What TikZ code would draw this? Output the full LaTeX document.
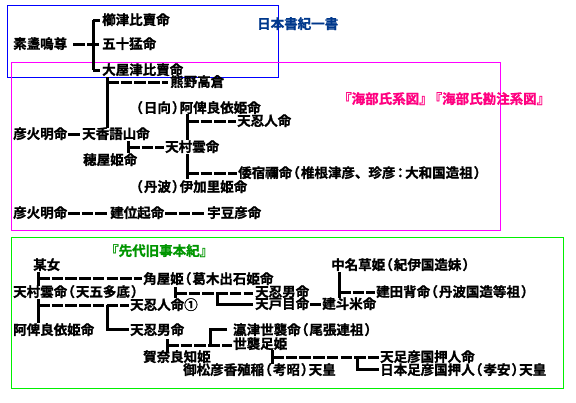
\documentclass[tikz,border=0pt]{standalone}
\usepackage{fontspec}
\setmainfont{Noto Sans CJK JP}[BoldFont={Noto Sans CJK JP Bold},BoldFeatures={FakeBold=1.2}]
\newcommand\LP{\kern1pt{\addfontfeature{RawFeature=+halt}（}\kern1pt}
\newcommand\RP{\kern1pt{\addfontfeature{RawFeature=+halt}）}\kern1pt}
\newcommand\CO{\kern1.5pt{\addfontfeature{RawFeature=+halt}：}\kern1.5pt}
\definecolor{boxblue}{RGB}{0,0,255}
\definecolor{txtblue}{RGB}{0,56,140}
\definecolor{boxmag}{RGB}{255,0,255}
\definecolor{txtmag}{RGB}{255,0,128}
\definecolor{boxgreen}{RGB}{0,240,0}
\definecolor{txtgreen}{RGB}{0,150,0}
\begin{document}
\begin{tikzpicture}[x=1pt,y=-1pt,
  lbl/.style={anchor=west,inner sep=0pt,font=\fontsize{13.5}{14}\selectfont\bfseries,text height=11pt,text depth=1.5pt},
  ln/.style={line width=3pt},
  hl/.style={line width=3pt,dash pattern=on 11.5pt off 2.2pt},
  frame/.style={line width=1pt}]
\useasboundingbox[fill=white] (0,0) rectangle (576,402);

% ---------- frames ----------
\draw[frame,boxblue] (7,5) rectangle (278,77);
\draw[frame,boxmag] (11,62) rectangle (500,230);
\draw[frame,boxgreen] (11,237) rectangle (563,388);

% ---------- Nihon shoki ----------
\node[lbl,txtblue] (t1) at (257,24) {日本書紀一書};
\node[lbl] (kushi) at (102,20) {櫛津比賣命};
\node[lbl] (susa) at (13,44) {素盞嗚尊};
\node[lbl] (iso) at (102,44) {五十猛命};
\node[lbl] (oya) at (102,70) {大屋津比賣命};
\coordinate (a1) at (93,20);
\coordinate (a3) at (93,70);
\draw[ln] (a1) -- (a3);
\draw[ln] (a1) -- (a1 -| 100,0);
\draw[ln] (a3) -- (a3 -| 100,0);
\draw[ln] (73,44) -- (85,44);
\draw[ln] (87,44) -- (99,44);

% ---------- Amabe ----------
\node[lbl,txtmag] (t2) at (338,99) {『海部氏系図』\kern-4pt『海部氏勘注系図』};
\node[lbl] (kumano) at (170,82) {熊野高倉};
\node[lbl] (abira1) at (135,108) {\LP 日向\RP 阿俾良依姫命};
\node[lbl] (oshihito1) at (237,121) {天忍人命};
\node[lbl] (hoakari1) at (13,134) {彦火明命};
\node[lbl] (kagoyama) at (82,134) {天香語山命};
\node[lbl] (murakumo1) at (165,147) {天村雲命};
\node[lbl] (hoya) at (83,160) {穂屋姫命};
\node[lbl] (yamato) at (238,173) {倭宿禰命\LP 椎根津彦、珍彦\CO 大和国造祖\RP};
\node[lbl] (ikari) at (135,187) {\LP 丹波\RP 伊加里姫命};
\node[lbl] (hoakari2) at (13,213) {彦火明命};
\node[lbl] (takei) at (110,213) {建位起命};
\node[lbl] (uzu) at (207,213) {宇豆彦命};

\draw[ln] (107,77) -- (107,128);
\draw[hl] (107,82) -- (168,82);
\draw[ln] (68,134) -- (80,134);
\draw[ln] (128,141) -- (128,153);
\draw[hl] (128,147) -- (164,147);
\draw[ln] (187,114) -- (187,140);
\draw[ln] (187,154) -- (187,179);
\draw[hl] (187,121) -- (236,121);
\draw[hl] (187,173) -- (237,173);
\draw[hl] (68,213) -- (109,213);
\draw[hl] (165,213) -- (206,213);

% ---------- Sendai kuji hongi ----------
\node[lbl,txtgreen] (t3) at (105,251) {『先代旧事本紀』};
\node[lbl] (bou) at (33,265) {某女};
\node[lbl] (tsunoya) at (143,279) {角屋姫\LP 葛木出石姫命};
\node[lbl] (murakumo2) at (13,292) {天村雲命\LP 天五多底\RP};
\node[lbl] (oshihito2) at (130,305) {天忍人命①};
\node[lbl] (abira2) at (13,330) {阿俾良依姫命};
\node[lbl] (oshio1) at (130,330) {天忍男命};
\node[lbl] (oshio2) at (255,292) {天忍男命};
\node[lbl] (tobe) at (255,304) {天戸目命};
\node[lbl] (tatosu) at (322,304) {建斗米命};
\node[lbl] (nakana) at (331,265) {中名草姫\LP 紀伊国造妹\RP};
\node[lbl] (tatase) at (376,292) {建田背命\LP 丹波国造等祖\RP};
\node[lbl] (oki) at (233,330) {瀛津世襲命\LP 尾張連祖\RP};
\node[lbl] (yoso) at (233,344) {世襲足姫};
\node[lbl] (kana) at (143,357) {賀奈良知姫};
\node[lbl] (kaeshi) at (183,370) {御松彦香殖稲\LP 考昭\RP 天皇};
\node[lbl] (taraoshi) at (380,357) {天足彦国押人命};
\node[lbl] (koan) at (380,370) {日本足彦国押人\LP 孝安\RP 天皇};

\draw[ln] (38,272) -- (38,286);
\draw[hl] (38,278) -- (142,278);
\draw[ln] (38,299) -- (38,323);
\draw[hl] (38,305) -- (129,305);
\draw[ln] (107,305) -- (107,329) -- (129,329);
\draw[ln] (175,287) -- (175,298);
\draw[hl] (175,293) -- (253,293);
\draw[ln] (217,293) -- (217,304) -- (253,304);
\draw[ln] (310,304) -- (321,304);
\draw[ln] (339,272) -- (339,298);
\draw[hl] (339,292) -- (375,292);
\draw[ln] (227,329) -- (210,329) -- (210,345);
\draw[ln] (167,339) -- (167,352);
\draw[hl] (167,345) -- (232,345);
\draw[ln] (272,350) -- (272,364);
\draw[hl] (272,357) -- (379,357);
\draw[ln] (357,357) -- (357,369) -- (379,369);
\end{tikzpicture}
\end{document}
